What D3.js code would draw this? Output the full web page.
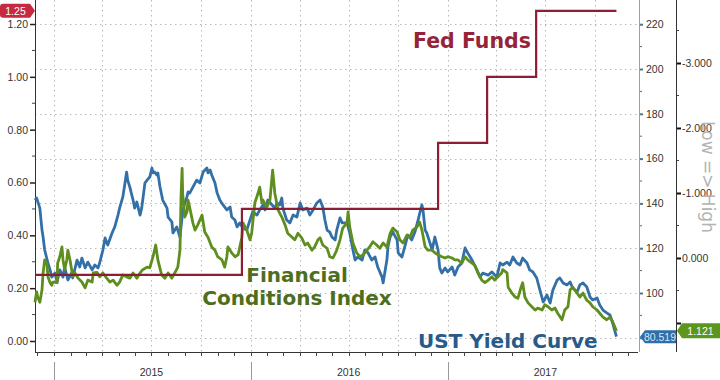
<!DOCTYPE html>
<html><head><meta charset="utf-8">
<script src="https://cdn.jsdelivr.net/npm/d3@7"></script>
<style>body{margin:0;background:#fff}svg{display:block}</style>
</head><body><svg id="c" width="720" height="380"></svg>
<script>
// ---------- DATA ----------
const ustDates = ["2014-11-27","2014-11-30","2014-12-06","2014-12-10","2014-12-12","2014-12-15","2014-12-21","2014-12-25","2014-12-28","2015-01-03","2015-01-07","2015-01-12","2015-01-18","2015-01-21","2015-01-27","2015-02-03","2015-02-05","2015-02-13","2015-02-18","2015-02-22","2015-02-28","2015-03-05","2015-03-13","2015-03-18","2015-03-24","2015-03-27","2015-04-02","2015-04-06","2015-04-11","2015-04-19","2015-04-24","2015-04-30","2015-05-03","2015-05-09","2015-05-13","2015-05-16","2015-05-18","2015-05-22","2015-05-28","2015-05-31","2015-06-04","2015-06-10","2015-06-13","2015-06-19","2015-06-23","2015-06-28","2015-07-02","2015-07-04","2015-07-07","2015-07-11","2015-07-13","2015-07-17","2015-07-22","2015-07-30","2015-08-01","2015-08-08","2015-08-10","2015-08-17","2015-08-19","2015-08-23","2015-08-27","2015-08-28","2015-09-01","2015-09-05","2015-09-07","2015-09-10","2015-09-16","2015-09-23","2015-09-29","2015-10-05","2015-10-12","2015-10-14","2015-10-18","2015-10-21","2015-10-27","2015-10-31","2015-11-05","2015-11-11","2015-11-18","2015-11-24","2015-11-27","2015-12-03","2015-12-07","2015-12-12","2015-12-18","2015-12-25","2015-12-31","2016-01-05","2016-01-13","2016-01-18","2016-01-24","2016-01-28","2016-02-02","2016-02-10","2016-02-15","2016-02-19","2016-02-24","2016-02-28","2016-03-01","2016-03-08","2016-03-14","2016-03-20","2016-03-27","2016-04-02","2016-04-07","2016-04-15","2016-04-20","2016-04-26","2016-05-03","2016-05-09","2016-05-14","2016-05-18","2016-05-22","2016-05-27","2016-05-31","2016-06-06","2016-06-09","2016-06-15","2016-06-19","2016-06-28","2016-07-03","2016-07-09","2016-07-13","2016-07-18","2016-07-26","2016-07-31","2016-08-06","2016-08-13","2016-08-19","2016-08-24","2016-09-01","2016-09-03","2016-09-06","2016-09-10","2016-09-12","2016-09-16","2016-09-21","2016-09-29","2016-10-01","2016-10-08","2016-10-13","2016-10-19","2016-10-26","2016-11-01","2016-11-07","2016-11-10","2016-11-14","2016-11-16","2016-11-20","2016-11-23","2016-11-29","2016-12-03","2016-12-08","2016-12-14","2016-12-17","2016-12-21","2016-12-27","2017-01-01","2017-01-09","2017-01-14","2017-01-20","2017-01-27","2017-02-02","2017-02-07","2017-02-15","2017-02-24","2017-03-02","2017-03-07","2017-03-17","2017-03-24","2017-04-02","2017-04-08","2017-04-13","2017-04-21","2017-04-26","2017-05-02","2017-05-09","2017-05-15","2017-05-20","2017-05-28","2017-06-02","2017-06-08","2017-06-15","2017-06-21","2017-06-27","2017-07-04","2017-07-10","2017-07-15","2017-07-23","2017-07-28","2017-08-03","2017-08-10","2017-08-16","2017-08-21","2017-08-29","2017-09-03","2017-09-09","2017-09-16","2017-09-22","2017-09-27","2017-10-05","2017-10-10","2017-10-16","2017-10-23","2017-10-29","2017-11-03","2017-11-10"];
const ustValues = [141.5,142.4,137.9,128.1,125.0,119.2,113.4,110.3,107.1,108.9,104.9,110.3,107.1,111.6,105.8,108.9,106.7,114.7,111.6,115.6,111.2,113.8,110.3,112.5,111.2,113.4,119.2,124.6,121.4,126.8,129.5,134.8,137.9,142.9,149.1,154.0,150.4,147.3,141.5,137.9,140.6,134.8,137.9,149.1,150.4,151.8,155.8,153.6,154.0,152.7,153.6,147.3,141.5,137.9,133.9,131.7,126.8,129.5,128.1,125.0,133.9,136.2,140.2,142.9,145.1,144.6,147.3,150.4,149.1,154.0,155.8,153.6,154.9,152.7,149.1,144.6,141.5,139.3,137.1,138.4,133.9,132.6,129.5,131.3,129.0,128.1,132.6,136.2,134.8,137.1,139.3,137.1,141.5,139.3,137.9,140.2,139.3,142.4,137.9,132.6,131.3,134.8,133.9,140.2,137.1,137.9,134.8,137.1,140.2,141.5,138.4,132.6,128.1,127.2,125.0,123.7,128.1,133.5,131.3,131.3,126.8,119.2,114.7,116.1,114.7,119.2,117.9,114.7,116.1,111.6,107.1,104.5,108.9,114.7,120.5,125.0,127.2,123.7,117.9,116.1,120.5,125.9,123.7,127.2,132.6,135.7,139.3,137.1,128.1,126.8,122.3,119.2,125.0,119.2,111.2,108.9,111.2,109.4,111.6,108.0,111.6,113.4,120.1,117.9,114.7,110.3,107.1,108.9,108.0,109.4,107.1,113.4,112.5,113.8,112.5,116.1,113.4,112.5,115.6,113.4,110.3,109.4,106.7,101.3,96.0,99.1,95.5,101.3,105.8,106.7,104.5,103.6,104.9,102.2,100.4,103.6,104.5,102.7,98.2,96.9,97.8,94.6,92.4,91.1,90.2,86.6,80.519];

const fciDates = ["2014-11-27","2014-11-30","2014-12-02","2014-12-06","2014-12-10","2014-12-12","2014-12-15","2014-12-19","2014-12-21","2014-12-25","2014-12-28","2014-12-30","2015-01-07","2015-01-08","2015-01-12","2015-01-16","2015-01-18","2015-01-21","2015-01-25","2015-01-27","2015-01-31","2015-02-03","2015-02-05","2015-02-09","2015-02-15","2015-02-22","2015-02-28","2015-03-05","2015-03-13","2015-03-15","2015-03-22","2015-03-27","2015-04-02","2015-04-09","2015-04-15","2015-04-21","2015-04-28","2015-05-03","2015-05-09","2015-05-16","2015-05-22","2015-05-28","2015-06-04","2015-06-10","2015-06-15","2015-06-23","2015-06-28","2015-07-04","2015-07-09","2015-07-13","2015-07-20","2015-07-26","2015-08-01","2015-08-08","2015-08-14","2015-08-19","2015-08-23","2015-08-25","2015-08-27","2015-08-28","2015-09-01","2015-09-05","2015-09-07","2015-09-10","2015-09-16","2015-09-20","2015-09-25","2015-10-03","2015-10-08","2015-10-14","2015-10-21","2015-10-27","2015-11-01","2015-11-09","2015-11-14","2015-11-18","2015-11-20","2015-11-27","2015-12-03","2015-12-09","2015-12-12","2015-12-16","2015-12-18","2015-12-25","2015-12-31","2016-01-03","2016-01-09","2016-01-15","2016-01-18","2016-01-22","2016-01-24","2016-01-31","2016-02-06","2016-02-11","2016-02-15","2016-02-21","2016-02-28","2016-03-05","2016-03-10","2016-03-18","2016-03-23","2016-03-29","2016-04-05","2016-04-11","2016-04-16","2016-04-24","2016-04-29","2016-05-05","2016-05-09","2016-05-14","2016-05-22","2016-05-27","2016-06-02","2016-06-09","2016-06-15","2016-06-20","2016-06-28","2016-06-30","2016-07-03","2016-07-09","2016-07-16","2016-07-22","2016-07-28","2016-08-04","2016-08-09","2016-08-15","2016-08-22","2016-08-28","2016-09-03","2016-09-10","2016-09-16","2016-09-21","2016-09-29","2016-10-04","2016-10-10","2016-10-17","2016-10-23","2016-10-28","2016-11-05","2016-11-10","2016-11-14","2016-11-20","2016-11-25","2016-12-03","2016-12-08","2016-12-14","2016-12-21","2016-12-27","2017-01-01","2017-01-09","2017-01-14","2017-01-20","2017-01-27","2017-02-02","2017-02-07","2017-02-15","2017-02-20","2017-02-26","2017-03-05","2017-03-11","2017-03-17","2017-03-24","2017-03-29","2017-04-04","2017-04-11","2017-04-13","2017-04-21","2017-04-23","2017-04-30","2017-05-06","2017-05-11","2017-05-17","2017-05-20","2017-05-24","2017-05-30","2017-06-06","2017-06-12","2017-06-17","2017-06-25","2017-06-30","2017-07-06","2017-07-13","2017-07-19","2017-07-24","2017-08-01","2017-08-06","2017-08-12","2017-08-16","2017-08-21","2017-08-29","2017-09-03","2017-09-09","2017-09-16","2017-09-22","2017-09-27","2017-10-05","2017-10-10","2017-10-16","2017-10-23","2017-10-29","2017-11-03","2017-11-10"];
const fciValues = [0.68,0.52,0.60,0.68,0.49,0.23,0.03,0.08,0.29,0.38,0.42,0.37,0.38,0.08,-0.02,-0.17,0.03,0.18,0.03,-0.12,0.03,0.18,0.29,0.23,0.31,0.37,0.46,0.34,0.37,0.23,0.22,0.29,0.23,0.31,0.37,0.34,0.42,0.37,0.26,0.29,0.31,0.23,0.31,0.23,0.18,0.14,0.15,-0.02,-0.20,0.03,0.26,0.31,0.23,0.31,0.22,0.14,-0.12,-0.94,-1.38,-1.00,-0.63,-0.71,-0.89,-0.78,-0.54,-0.43,-0.51,-0.66,-0.40,-0.32,-0.17,-0.12,-0.02,0.03,0.14,-0.02,-0.17,-0.08,-0.02,-0.05,-0.17,-0.32,-0.54,-0.43,-0.28,-0.38,-0.85,-1.00,-1.09,-0.85,-0.89,-0.78,-0.89,-1.35,-1.00,-0.74,-0.63,-0.51,-0.38,-0.32,-0.28,-0.38,-0.31,-0.20,-0.23,-0.12,-0.17,-0.28,-0.31,-0.20,-0.15,-0.02,0.00,-0.12,-0.28,-0.46,-0.54,-0.71,-0.48,-0.23,-0.08,-0.02,-0.05,-0.12,-0.17,-0.25,-0.20,-0.15,-0.23,-0.17,-0.38,-0.46,-0.40,-0.28,-0.23,-0.35,-0.32,-0.43,-0.48,-0.55,-0.43,-0.17,-0.12,-0.12,-0.08,-0.05,-0.02,0.00,-0.02,0.00,0.03,0.03,0.08,-0.02,0.03,0.08,0.11,0.23,0.34,0.38,0.34,0.29,0.34,0.29,0.23,0.18,0.23,0.45,0.54,0.60,0.62,0.45,0.38,0.60,0.69,0.75,0.80,0.77,0.80,0.72,0.75,0.80,0.77,0.85,0.95,0.80,0.75,0.49,0.45,0.54,0.60,0.54,0.65,0.69,0.75,0.80,0.85,0.91,0.95,0.91,0.98,1.121];

const fedDates = ["2014-11-27","2015-12-16","2016-12-14","2017-03-15","2017-06-14","2017-11-10"];
const fedValues = [0.25,0.50,0.75,1.00,1.25,1.25];

const leftTicks = [0,0.2,0.4,0.6,0.8,1.0,1.2];
const midTicks = [80,100,120,140,160,180,200,220];
const rightTicks = [-3,-2,-1,0,1];
const years = ["2015","2016","2017"];

// ---------- CHART ----------
const parse = d3.timeParse("%Y-%m-%d");
const svg = d3.select("#c");
const L = 35, R = 638, B = 352, T = 0;
const x = d3.scaleTime().domain([parse("2014-11-27"), parse("2017-12-20")]).range([L, R]);
const yL = d3.scaleLinear().domain([0, 1.2]).range([341, 24]);
const yM = d3.scaleLinear().domain([100, 200]).range([293, 69]);
const yR = d3.scaleLinear().domain([0, 1]).range([258, 323]);
const font = "'Liberation Sans', Arial, sans-serif";

// gridlines
const grid = svg.append("g").attr("stroke", "#b8b8b8").attr("stroke-dasharray", "1.5,3.5").attr("stroke-width", 1);
grid.selectAll("line.h").data(midTicks).join("line")
  .attr("x1", L).attr("x2", R).attr("y1", d => Math.round(yM(d)) + 0.5).attr("y2", d => Math.round(yM(d)) + 0.5);
const quarters = d3.timeMonth.every(3).range(parse("2015-01-01"), parse("2017-12-01"));
grid.selectAll("line.v").data(quarters).join("line")
  .attr("x1", d => Math.round(x(d)) + 0.5).attr("x2", d => Math.round(x(d)) + 0.5).attr("y1", T).attr("y2", B);

// left axis
const gl = svg.append("g").attr("transform", `translate(${L},0)`);
gl.call(d3.axisLeft(yL).tickValues(leftTicks).tickFormat(d3.format(".2f")).tickSize(5).tickPadding(2))
  .call(g => g.select(".domain").remove());
gl.selectAll(".tick line").attr("stroke", "#222").attr("stroke-width", 1.5);
gl.selectAll(".tick text").attr("font-family", font).attr("font-size", 10.5).attr("fill", "#333");
gl.selectAll("line.minor").data(d3.range(0.1, 1.3, 0.2)).join("line")
  .attr("x1", -3).attr("x2", 0).attr("y1", d => yL(d)).attr("y2", d => yL(d)).attr("stroke", "#444");
svg.append("line").attr("x1", L + 0.5).attr("x2", L + 0.5).attr("y1", T).attr("y2", B).attr("stroke", "#333");

// middle axis (UST); the 80 label sits under the last-value tag, as in the reference
const gm = svg.append("g").attr("transform", `translate(${R + 1},0)`);
gm.call(d3.axisRight(yM).tickValues(midTicks).tickSize(4).tickPadding(3).tickFormat(d => d === 80 ? "" : d))
  .call(g => g.select(".domain").remove());
gm.selectAll(".tick line").attr("stroke", "#4a7a8e").attr("stroke-width", 2);
gm.selectAll(".tick text").attr("font-family", font).attr("font-size", 10.5).attr("fill", "#333");
gm.selectAll("line.minor").data(d3.range(90, 230, 20)).join("line")
  .attr("x1", 0).attr("x2", 3).attr("y1", d => yM(d)).attr("y2", d => yM(d)).attr("stroke", "#666");
svg.append("line").attr("x1", R + 1.5).attr("x2", R + 1.5).attr("y1", T).attr("y2", B).attr("stroke", "#8aa6b2");

// far right axis (FCI, inverted); the 1.000 label sits under the last-value tag
const gr = svg.append("g").attr("transform", `translate(676,0)`);
gr.call(d3.axisRight(yR).tickValues(rightTicks).tickFormat(d => d === 1 ? "" : d.toFixed(3)).tickSize(5).tickPadding(1))
  .call(g => g.select(".domain").remove());
gr.selectAll(".tick line").attr("stroke", "#111").attr("stroke-width", 2);
gr.selectAll(".tick text").attr("font-family", font).attr("font-size", 10.5).attr("fill", "#333");
gr.selectAll("line.minor").data([-3.5, -2.5, -1.5, -0.5, 0.5]).join("line")
  .attr("x1", 0).attr("x2", 3).attr("y1", d => yR(d)).attr("y2", d => yR(d)).attr("stroke", "#444");
svg.append("line").attr("x1", 676.5).attr("x2", 676.5).attr("y1", T).attr("y2", B).attr("stroke", "#333");

// bottom axis
svg.append("line").attr("x1", L).attr("x2", R).attr("y1", B + 0.5).attr("y2", B + 0.5).attr("stroke", "#333");
const months = d3.timeMonth.range(parse("2014-12-01"), parse("2017-12-21"));
svg.append("g").selectAll("line").data(months).join("line")
  .attr("x1", d => Math.round(x(d)) + 0.5).attr("x2", d => Math.round(x(d)) + 0.5)
  .attr("y1", B).attr("y2", B + 4).attr("stroke", "#444");
svg.append("g").selectAll("line").data(years).join("line")
  .attr("x1", d => Math.round(x(parse(d + "-01-01"))) + 0.5).attr("x2", d => Math.round(x(parse(d + "-01-01"))) + 0.5)
  .attr("y1", 362).attr("y2", 380).attr("stroke", "#999");
svg.append("g").selectAll("text").data(years).join("text")
  .attr("x", d => x(parse(d + "-07-01"))).attr("y", 376).attr("text-anchor", "middle")
  .attr("font-family", font).attr("font-size", 10.5).attr("fill", "#333").text(d => d);

// series
const ust = ustDates.map((d, i) => ({ d: parse(d), v: ustValues[i] }));
const fci = fciDates.map((d, i) => ({ d: parse(d), v: fciValues[i] }));
const fed = fedDates.map((d, i) => ({ d: parse(d), v: fedValues[i] }));

svg.append("path").datum(ust).attr("fill", "none").attr("stroke", "#3370a8").attr("stroke-width", 2.8)
  .attr("stroke-linejoin", "round")
  .attr("d", d3.line().x(p => x(p.d)).y(p => yM(p.v)));
svg.append("path").datum(fci).attr("fill", "none").attr("stroke", "#5e8e1e").attr("stroke-width", 2.8)
  .attr("stroke-linejoin", "round")
  .attr("d", d3.line().x(p => x(p.d)).y(p => yR(p.v)));
svg.append("path").datum(fed).attr("fill", "none").attr("stroke", "#8c1d33").attr("stroke-width", 2.2)
  .attr("d", d3.line().curve(d3.curveStepAfter).x(p => x(p.d)).y(p => yL(p.v)));

// annotations
const bold = "'DejaVu Sans', Verdana, sans-serif";
svg.append("text").attr("x", 413).attr("y", 48).attr("font-family", bold).attr("font-weight", "bold")
  .attr("font-size", 20.5).attr("fill", "#952438").text("Fed Funds");
svg.append("text").attr("x", 297).attr("y", 282).attr("text-anchor", "middle").attr("font-family", bold)
  .attr("font-weight", "bold").attr("font-size", 20).attr("fill", "#4d6e1d").text("Financial");
svg.append("text").attr("x", 297).attr("y", 305).attr("text-anchor", "middle").attr("font-family", bold)
  .attr("font-weight", "bold").attr("font-size", 20).attr("fill", "#4d6e1d").text("Conditions Index");
svg.append("text").attr("x", 418).attr("y", 348).attr("font-family", bold).attr("font-weight", "bold")
  .attr("font-size", 20).attr("fill", "#285a8a").text("UST Yield Curve");
svg.append("text").attr("transform", "translate(708,177) rotate(90)").attr("text-anchor", "middle")
  .attr("dominant-baseline", "central").attr("font-family", "'DejaVu Sans', sans-serif")
  .attr("font-size", 17).attr("fill", "#b3b3b3").text("Low => High");

// value tags
function tagRight(xl, xr, yc, h, fill, txtFill, label) {
  const t = yc - h / 2, b = yc + h / 2;
  svg.append("path").attr("d", `M${xl + 3},${t} L${xr - 5},${t} L${xr},${yc} L${xr - 5},${b} L${xl + 3},${b} Q${xl},${b} ${xl},${b - 3} L${xl},${t + 3} Q${xl},${t} ${xl + 3},${t} Z`).attr("fill", fill);
  svg.append("text").attr("x", (xl + xr - 4) / 2).attr("y", yc).attr("dominant-baseline", "central")
    .attr("text-anchor", "middle").attr("font-family", font).attr("font-size", 10.5).attr("fill", txtFill).text(label);
}
function tagLeft(xl, xr, yc, h, fill, txtFill, label) {
  const t = yc - h / 2, b = yc + h / 2;
  svg.append("path").attr("d", `M${xl},${yc} L${xl + 5},${t} L${xr},${t} L${xr},${b} L${xl + 5},${b} Z`).attr("fill", fill);
  svg.append("text").attr("x", (xl + xr + 4) / 2).attr("y", yc).attr("dominant-baseline", "central")
    .attr("text-anchor", "middle").attr("font-family", font).attr("font-size", 10.5).attr("fill", txtFill).text(label);
}
tagRight(0, 35, yL(fedValues[fedValues.length - 1]), 14, "#c52a40", "#fff", fedValues[fedValues.length - 1].toFixed(2));
tagLeft(640, 676, yM(ustValues[ustValues.length - 1]), 13, "#2f6ea8", "#d8e8f6", ustValues[ustValues.length - 1].toFixed(3));
tagLeft(677, 720, yR(fciValues[fciValues.length - 1]), 15, "#5c961c", "#fff", fciValues[fciValues.length - 1].toFixed(3));
</script>
</body></html>
